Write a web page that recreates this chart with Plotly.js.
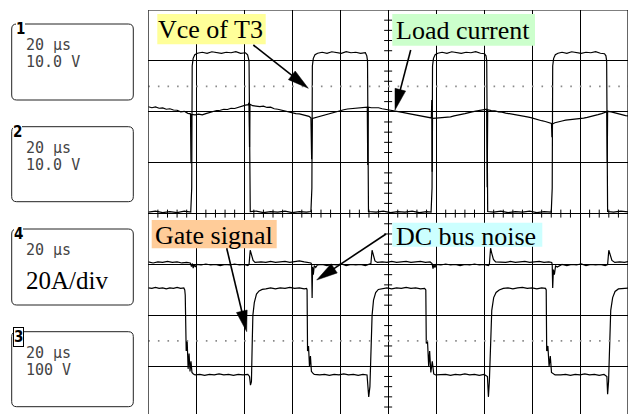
<!DOCTYPE html>
<html><head><meta charset="utf-8">
<script src="https://cdn.plot.ly/plotly-3.0.1.min.js"></script>
<style>html,body{margin:0;padding:0;background:#fff}#chart{width:629px;height:414px}</style>
</head><body><div id="chart"></div>
<script>
// ---- data: time in µs (20 µs/div), level in screen divisions ----
const vceTrace = [
[-100,0.03],[-97,0.05],[-94,0.02],[-91,0.04],[-88,0.02],[-85,0.05],[-82.3,0.03],
[-81.9,0.5],[-81.7,2.9],[-81.3,3.05],[-80.6,3.12],[-79.5,3.15],
[-77.5,3.17],[-75.5,3.15],[-73.5,3.18],[-71.5,3.16],[-69.5,3.15],[-67.5,3.17],[-65.5,3.16],[-63.5,3.18],[-61.5,3.15],[-59.5,3.16],[-58.6,3.12],[-58.0,3.0],
[-57.7,0.5],[-57.5,0.04],
[-55,0.05],[-52,0.02],[-49,0.04],[-46,0.03],[-43,0.05],[-40,0.02],[-37,0.04],[-34,0.03],[-32.2,0.04],
[-31.8,0.5],[-31.6,2.9],[-31.2,3.05],[-30.5,3.12],[-29.4,3.15],
[-27.5,3.17],[-25.5,3.15],[-23.5,3.18],[-21.5,3.16],[-19.5,3.15],[-17.5,3.18],[-15.5,3.16],[-13.5,3.17],[-11.5,3.15],[-9.5,3.16],[-8.9,3.1],[-8.6,3.0],
[-8.4,0.5],[-8.2,0.04],
[-5,0.03],[-2,0.05],[1,0.02],[4,0.04],[7,0.03],[10,0.05],[13,0.02],[16,0.04],[17.9,0.03],
[18.3,0.5],[18.5,2.9],[18.9,3.05],[19.6,3.12],[20.7,3.15],
[22.5,3.17],[24.5,3.15],[26.5,3.18],[28.5,3.16],[30.5,3.15],[32.5,3.17],[34.5,3.16],[36.5,3.18],[38.5,3.15],[40.2,3.14],[40.8,3.1],[41.1,3.0],
[41.3,0.5],[41.5,0.04],
[44,0.03],[47,0.05],[50,0.02],[53,0.04],[56,0.03],[59,0.05],[62,0.02],[65,0.04],[68,0.03],
[68.4,0.5],[68.6,2.9],[69.0,3.05],[69.7,3.12],[70.8,3.15],
[72.5,3.17],[74.5,3.15],[76.5,3.18],[78.5,3.16],[80.5,3.15],[82.5,3.17],[84.5,3.16],[86.5,3.18],[88.5,3.15],[90.2,3.14],[90.8,3.1],[91.1,3.0],
[91.3,0.5],[91.5,0.04],
[94,0.03],[97,0.05],[100.5,0.03]
];

const loadTrace = [
[-100,2.10],[-98.5,2.08],[-97,2.095],[-95.5,2.07],[-94,2.075],[-92.5,2.05],[-91,2.06],[-89.5,2.035],[-88,2.03],[-86.5,2.00],[-85,2.01],[-83.5,1.97],
[-82.4,1.96],[-82.2,0.99],[-82.0,1.95],
[-80.5,1.94],[-79,1.955],[-77.5,1.94],[-76,1.965],[-74.5,1.99],[-73,2.00],[-71.5,2.025],[-70,2.03],[-68.5,2.05],[-67,2.045],[-65.5,2.07],[-64,2.065],[-62.5,2.09],[-61,2.10],[-59.5,2.13],[-58.4,2.14],
[-58,2.18],[-57.8,1.31],[-57.6,2.15],
[-56.5,2.12],[-55,2.11],[-53.5,2.10],[-52,2.11],[-50.5,2.085],[-49,2.09],[-47.5,2.06],[-46,2.05],[-44.5,2.03],[-43,2.015],[-41.5,1.99],[-40,1.985],[-38.5,1.965],[-37,1.96],[-35.5,1.945],[-34,1.93],[-33,1.91],
[-32.2,1.88],[-31.9,1.07],[-31.6,1.87],
[-30.5,1.885],[-29,1.90],[-27.5,1.925],[-26,1.94],[-24.5,1.965],[-23,1.98],[-21.5,2.01],[-20,2.025],[-18.5,2.04],[-17,2.055],[-15.5,2.06],[-14,2.075],[-12.5,2.07],[-11,2.08],[-9.5,2.085],
[-8.7,2.09],[-8.5,0.955],[-8.3,2.09],
[-7,2.08],[-5.5,2.075],[-4,2.08],[-2.5,2.06],[-1,2.05],[0.5,2.035],[2,2.02],[3.5,2.015],[5,2.00],[6.5,1.985],[8,1.97],[9.5,1.955],[11,1.94],[12.5,1.93],[14,1.915],[15.5,1.905],[17,1.89],
[18.0,1.88],[18.2,2.23],[18.35,0.82],[18.5,1.87],
[20,1.875],[21.5,1.88],[23,1.885],[24.5,1.895],[26,1.90],[27.5,1.92],[29,1.93],[30.5,1.95],[32,1.965],[33.5,1.99],[35,2.00],[36.5,2.015],[38,2.025],[39.5,2.04],
[41.1,2.05],[41.3,0.52],[41.5,2.04],
[43,2.025],[44.5,2.02],[46,2.00],[47.5,1.995],[49,1.975],[50.5,1.965],[52,1.95],[53.5,1.945],[55,1.93],[56.5,1.915],[58,1.90],[59.5,1.885],[61,1.86],[62.5,1.84],[64,1.825],[65.5,1.81],[67,1.79],
[68.1,1.77],[68.3,1.50],[68.5,1.76],
[69.5,1.785],[71,1.81],[72.5,1.82],[74,1.835],[75.5,1.84],[77,1.855],[78.5,1.86],[80,1.87],[81.5,1.875],[83,1.89],[84.5,1.905],[86,1.925],[87.5,1.945],[89,1.965],[90.5,1.985],
[91.2,2.0],[91.35,1.01],[91.5,2.01],
[93,2.00],[94.5,1.98],[96,1.955],[97.5,1.945],[99,1.925],[100.5,1.92]
];

const busTrace = [
[-100,-0.95],[-98,-0.97],[-96,-0.95],[-94,-0.96],[-92,-0.94],[-90,-0.96],[-88,-0.95],[-86,-0.97],[-84,-0.96],[-82.5,-0.97],
[-82,-1.04],[-81.6,-0.98],[-81.3,-1.07],[-80.9,-1.0],[-80.4,-1.05],[-79.8,-1.0],
[-78,-1.01],[-76,-0.99],[-74,-1.01],[-72,-1.0],[-70,-1.02],[-68,-1.0],[-66,-1.01],[-64,-0.99],[-62,-1.01],[-60,-1.0],[-58.5,-1.02],
[-58,-1.0],[-57.5,-0.72],[-57.0,-0.80],[-56.3,-0.92],[-55.5,-0.96],
[-53,-0.95],[-51,-0.96],[-49,-0.94],[-47,-0.96],[-45,-0.95],[-43,-0.94],[-41,-0.96],[-39,-0.95],[-37,-0.93],[-35,-0.95],[-33,-0.96],[-32.2,-0.97],
[-31.9,-1.0],[-31.7,-1.66],[-31.5,-1.05],[-31.2,-1.2],[-30.8,-1.02],[-30.2,-1.06],[-29.5,-1.01],
[-27.5,-1.0],[-25.5,-1.02],[-23.5,-1.0],[-21.5,-1.01],[-19.5,-0.99],[-17.5,-1.02],[-15.5,-1.0],[-13.5,-1.01],[-11.5,-1.0],[-9.5,-1.02],[-8.5,-1.0],
[-7.2,-0.98],[-6.7,-0.72],[-6.2,-0.82],[-5.5,-0.93],[-4.5,-0.96],
[-2.5,-0.95],[-0.5,-0.96],[1.5,-0.94],[3.5,-0.96],[5.5,-0.95],[7.5,-0.94],[9.5,-0.96],[11.5,-0.95],[13.5,-0.94],[15.5,-0.96],[17.5,-0.95],
[18.3,-0.98],[18.7,-1.08],[19.1,-1.0],[19.5,-1.06],[20,-1.0],
[22,-1.01],[24,-0.99],[26,-1.01],[28,-1.0],[30,-1.02],[32,-1.0],[34,-1.01],[36,-0.99],[38,-1.01],[40,-1.0],[41.8,-1.02],
[42.2,-1.0],[42.7,-0.68],[43.2,-0.78],[43.9,-0.9],[44.8,-0.95],
[47,-0.95],[49,-0.96],[51,-0.94],[53,-0.96],[55,-0.95],[57,-0.94],[59,-0.96],[61,-0.95],[63,-0.94],[65,-0.96],[67,-0.95],[68.2,-0.96],
[68.4,-1.0],[68.6,-1.46],[68.9,-1.1],[69.3,-1.2],[69.8,-1.03],[70.5,-1.05],
[72.5,-1.0],[74.5,-1.02],[76.5,-1.0],[78.5,-1.01],[80.5,-0.99],[82.5,-1.02],[84.5,-1.0],[86.5,-1.01],[88.5,-1.0],[90.5,-1.02],[91.5,-1.0],
[92,-0.72],[92.5,-0.80],[93.3,-0.92],[94.5,-0.96],
[96.5,-0.95],[98.5,-0.96],[100.5,-0.94]
];

const gateTrace = [
[-100,-1.46],[-98.5,-1.47],[-97,-1.45],[-95.5,-1.47],[-94,-1.46],[-92.5,-1.48],[-91,-1.46],[-89.5,-1.47],[-88,-1.45],[-86.5,-1.47],[-85.2,-1.46],[-84.8,-1.5],
[-84.6,-1.6],[-84.2,-2.7],[-83.8,-2.5],[-83.4,-3.05],[-83.0,-2.75],[-82.6,-3.1],[-82.2,-2.9],[-81.8,-3.12],[-81.2,-3.15],[-80.5,-3.17],
[-78.5,-3.16],[-76.5,-3.18],[-74.5,-3.16],[-72.5,-3.17],[-70.5,-3.15],[-68.5,-3.17],[-66.5,-3.16],[-64.5,-3.18],[-62.5,-3.16],[-60.5,-3.17],[-58.5,-3.16],[-57.8,-3.2],
[-57.4,-3.37],[-57.0,-3.3],[-56.7,-2.6],[-56.4,-2.0],[-55.8,-1.75],[-54.9,-1.58],[-53.8,-1.52],[-52.5,-1.49],[-51,-1.48],
[-49,-1.46],[-47,-1.48],[-45,-1.46],[-43,-1.47],[-41,-1.45],[-39,-1.47],[-37,-1.46],[-35,-1.48],[-34,-1.47],[-33.8,-1.5],
[-33.6,-2.7],[-33.2,-2.6],[-32.8,-3.0],[-32.4,-2.8],[-32.0,-3.1],[-31.5,-3.13],[-30.8,-3.16],
[-28.5,-3.17],[-26.5,-3.16],[-24.5,-3.18],[-22.5,-3.16],[-20.5,-3.17],[-18.5,-3.15],[-16.5,-3.17],[-14.5,-3.16],[-12.5,-3.18],[-10.5,-3.16],[-8.8,-3.17],
[-8.1,-3.6],[-7.6,-3.4],[-7.1,-2.7],[-6.7,-2.0],[-6.1,-1.7],[-5.2,-1.55],[-4.1,-1.49],[-2.5,-1.47],
[-0.5,-1.46],[1.5,-1.48],[3.5,-1.46],[5.5,-1.47],[7.5,-1.45],[9.5,-1.47],[11.5,-1.46],[13.5,-1.48],[15.2,-1.47],[15.7,-1.5],
[15.9,-2.55],[16.4,-2.5],[16.9,-3.0],[17.3,-2.7],[17.8,-3.12],[18.4,-2.9],[19.0,-3.15],[19.8,-3.17],
[22,-3.17],[24,-3.16],[26,-3.18],[28,-3.16],[30,-3.17],[32,-3.15],[34,-3.17],[36,-3.16],[38,-3.18],[40,-3.16],[41.4,-3.2],
[41.8,-3.6],[42.2,-3.3],[42.6,-2.5],[43.2,-1.9],[44.0,-1.65],[45.0,-1.55],[46.3,-1.5],[48,-1.47],
[50,-1.46],[52,-1.48],[54,-1.46],[56,-1.45],[58,-1.47],[60,-1.46],[62,-1.48],[64,-1.46],[65.6,-1.47],[65.9,-1.5],
[66.1,-2.7],[66.6,-2.6],[67.1,-3.0],[67.6,-2.8],[68.1,-3.12],[68.8,-3.15],[69.6,-3.17],
[72,-3.17],[74,-3.16],[76,-3.18],[78,-3.16],[80,-3.17],[82,-3.15],[84,-3.17],[86,-3.16],[88,-3.18],[90,-3.16],[91.2,-3.2],
[91.5,-3.55],[91.9,-3.3],[92.3,-2.5],[92.8,-1.9],[93.6,-1.65],[94.6,-1.53],[96,-1.48],[98,-1.47],[100.5,-1.46]
];

const channelIds = ['1','2','4','3'];
const channelTimebase = ['20 µs','20 µs','20 µs','20 µs'];
const channelScale = ['10.0 V','10.0 V','20A/div','100 V'];
const calloutLabels = ['Vce of T3','Load current','Gate signal','DC bus noise'];
const calloutColors = ['#ffff99','#ccffcc','#ffcc99','#ccffff'];

// ---- layout geometry (pixels) ----
const W = 629, H = 414;
const X = v => v / W, Y = v => 1 - v / H;
const pxPerDiv = 50.9;
const panelBoxes = [[11.7,24,133.3,100],[11.7,126.7,133.3,201.7],[11.7,229,133.3,305],[11.7,331.7,133.3,406.7]];
const idPos = [[20.5,28.8],[17.8,131.8],[18.8,233.8],[18.8,337]];
const line1Y = [45,148,250,353];
const line2Y = [61.7,165,280,369.5];
const calloutBoxes = [[157.3,14,265.7,44.3],[392.3,14,535,45.7],[151.7,220,276.7,248.3],[392.3,222.7,542.3,246.7]];
const calloutText = [[210.7,29.2],[463.3,30.2],[213.8,235.5],[466.2,236.8]];
const arrows = [[253.3,45,308.3,88.3],[410.7,50,395,110],[226.7,248.3,246.7,331.7],[386,234,316.7,280]];

function mk(tr){
  return {x: tr.map(p=>p[0]), y: tr.map(p=>p[1]), type:'scatter', mode:'lines',
    line:{color:'#000', width:1.2}, hoverinfo:'skip', showlegend:false};
}
const data = [mk(vceTrace), mk(loadTrace), mk(busTrace), mk(gateTrace)];

const shapes = [];
[2.5,-2.5].forEach(v => shapes.push({type:'line', xref:'x', yref:'y', x0:-100, x1:100, y0:v, y1:v,
  line:{color:'#8a8a8a', width:1.6, dash:'1.6px,7.99px'}}));
for (let k=-24; k<=24; k++){
  if (k % 5 === 0) continue;
  shapes.push({type:'line', xref:'x', yref:'y', ysizemode:'pixel', yanchor:0, x0:4*k, x1:4*k, y0:-4, y1:4, line:{color:'#000', width:1}});
}
for (let k=-19; k<=19; k++){
  if (k % 5 === 0) continue;
  shapes.push({type:'line', xref:'x', yref:'y', xsizemode:'pixel', xanchor:0, y0:0.2*k, y1:0.2*k, x0:-4, x1:4, line:{color:'#000', width:1}});
}
shapes.push({type:'line', xref:'x', yref:'y', x0:-100, x1:-100, y0:-4, y1:4, line:{color:'#000', width:1.2}});
shapes.push({type:'line', xref:'x', yref:'y', x0:100, x1:100, y0:-4, y1:4, line:{color:'#000', width:1.2}});
shapes.push({type:'line', xref:'x', yref:'y', x0:-100, x1:100, y0:4, y1:4, line:{color:'#000', width:1.2}});

function rrect(b, r){
  const [x0,y0,x1,y1] = b;
  return `M ${X(x0+r)} ${Y(y0)} L ${X(x1-r)} ${Y(y0)} Q ${X(x1)} ${Y(y0)} ${X(x1)} ${Y(y0+r)} L ${X(x1)} ${Y(y1-r)} Q ${X(x1)} ${Y(y1)} ${X(x1-r)} ${Y(y1)} L ${X(x0+r)} ${Y(y1)} Q ${X(x0)} ${Y(y1)} ${X(x0)} ${Y(y1-r)} L ${X(x0)} ${Y(y0+r)} Q ${X(x0)} ${Y(y0)} ${X(x0+r)} ${Y(y0)} Z`;
}
panelBoxes.forEach(b => shapes.push({type:'path', xref:'paper', yref:'paper', path:rrect(b,5), line:{color:'#222', width:1}}));

calloutBoxes.forEach((b,i) => shapes.push({type:'rect', xref:'paper', yref:'paper', x0:X(b[0]), x1:X(b[2]), y0:Y(b[3]), y1:Y(b[1]),
  fillcolor:calloutColors[i], line:{width:0}}));

arrows.forEach(a => {
  const [sx,sy,tx,ty] = a;
  const dx = tx-sx, dy = ty-sy, len = Math.hypot(dx,dy);
  const ux = dx/len, uy = dy/len, nx = -uy, ny = ux;
  const L = 21, w = 11;
  const bx = tx - L*ux, by = ty - L*uy;
  shapes.push({type:'line', xref:'paper', yref:'paper', x0:X(sx), y0:Y(sy), x1:X(bx+3*ux), y1:Y(by+3*uy), line:{color:'#000', width:1.6}});
  shapes.push({type:'path', xref:'paper', yref:'paper', fillcolor:'#000', line:{color:'#000', width:0.5},
    path:`M ${X(tx)} ${Y(ty)} L ${X(bx+nx*w/2)} ${Y(by+ny*w/2)} L ${X(bx-nx*w/2)} ${Y(by-ny*w/2)} Z`});
});

const annotations = [];
channelIds.forEach((id,i) => {
  annotations.push({xref:'paper', yref:'paper', x:X(idPos[i][0]), y:Y(idPos[i][1]), xanchor:'center', yanchor:'middle',
    text:'<b>'+id+'</b>', showarrow:false, font:{family:'Liberation Sans Narrow, DejaVu Sans Condensed, Liberation Sans', size:15, color:'#000'},
    bgcolor:'#fff', borderpad:0, bordercolor: id==='3' ? '#000' : 'rgba(0,0,0,0)', borderwidth: id==='3' ? 1 : 0});
  annotations.push({xref:'paper', yref:'paper', x:X(24.5), y:Y(line1Y[i]), xanchor:'left', yanchor:'middle',
    text:channelTimebase[i], showarrow:false, borderpad:0, font:{family:'DejaVu Sans Mono', size:15, color:'#444'}});
  const big = channelScale[i].indexOf('div') >= 0;
  annotations.push({xref:'paper', yref:'paper', x:X(24.5), y:Y(line2Y[i]), xanchor:'left', yanchor:'middle',
    text:channelScale[i], showarrow:false, borderpad:0,
    font: big ? {family:'Liberation Serif', size:25, color:'#000'} : {family:'DejaVu Sans Mono', size:15, color:'#444'}});
});
calloutLabels.forEach((t,i) => annotations.push({xref:'paper', yref:'paper', x:X(calloutText[i][0]), y:Y(calloutText[i][1]),
  xanchor:'center', yanchor:'middle', text:t, showarrow:false, borderpad:0,
  font:{family:'Liberation Serif', size:26, color:'#000'}}));

const layout = {
  width:W, height:H, margin:{l:0,r:0,t:0,b:0}, paper_bgcolor:'#fff', plot_bgcolor:'#fff', showlegend:false,
  xaxis:{domain:[148.3/W, 628/W], range:[-100,100], tick0:-100, dtick:20, showgrid:true, gridcolor:'#000', gridwidth:1,
    zeroline:false, showticklabels:false, ticks:'', showline:false, fixedrange:true},
  yaxis:{domain:[0, 1-10/H], range:[4-(H-10)/pxPerDiv, 4], tick0:0, dtick:1, showgrid:true, gridcolor:'#000', gridwidth:1,
    zeroline:false, showticklabels:false, ticks:'', showline:false, fixedrange:true},
  shapes, annotations
};
Plotly.newPlot('chart', data, layout, {staticPlot:true, displayModeBar:false});
</script>
</body></html>
